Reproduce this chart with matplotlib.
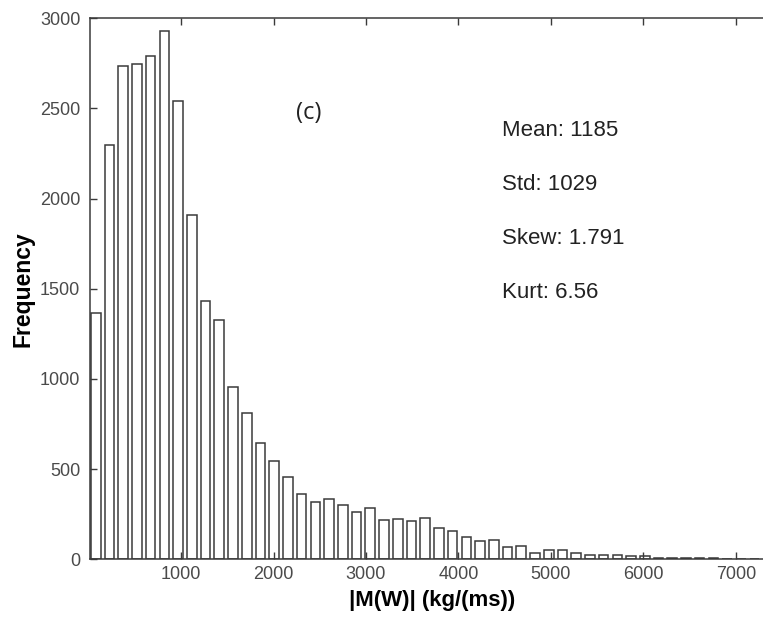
import numpy as np
import matplotlib
matplotlib.use('Agg')
import matplotlib.pyplot as plt

# histogram of |M(W)|, 50 bins
bin_start = 4.0
bin_width = 148.4
counts = [1367, 2298, 2735, 2748, 2789, 2928, 2542, 1911, 1435, 1326,
          955, 811, 646, 546, 457, 363, 318, 335, 300, 261,
          283, 217, 224, 211, 228, 176, 157, 124, 102, 108,
          67, 74, 37, 53, 53, 33, 25, 24, 24, 18,
          18, 8, 7, 9, 6, 5, 3, 3, 4, 3]
x_ticks = [1000, 2000, 3000, 4000, 5000, 6000, 7000]
y_ticks = [0, 500, 1000, 1500, 2000, 2500, 3000]
stats = ['Mean: 1185', 'Std: 1029', 'Skew: 1.791', 'Kurt: 6.56']

plt.rcParams['font.family'] = ['Liberation Sans', 'DejaVu Sans']

W, H = 763, 623
fig = plt.figure(figsize=(W / 100, H / 100), dpi=100)
ax = fig.add_axes([90 / W, 63.7 / H, 685 / W, 541 / H])

edges = bin_start + bin_width * np.arange(len(counts) + 1)
centers = (edges[:-1] + edges[1:]) / 2
ax.bar(centers, counts, width=bin_width * 0.7, color='white',
       edgecolor='#3a3a3a', linewidth=1.1)

ax.set_xlim(16, 7422)
ax.set_ylim(0, 3000)
ax.set_xticks(x_ticks)
ax.set_yticks(y_ticks)
ax.tick_params(direction='in', length=5, width=1, colors='#3a3a3a',
               labelcolor='#4a4a4a', labelsize=13, top=True, right=True)
ax.tick_params(axis='x', pad=5)
ax.tick_params(axis='y', pad=7)
for s in ax.spines.values():
    s.set_color('#3a3a3a')
    s.set_linewidth(1.1)

ax.set_xlabel('|M(W)| (kg/(ms))', fontsize=16, fontweight='bold', labelpad=5)
ax.set_ylabel('Frequency', fontsize=16.5, fontweight='bold', labelpad=4)

fig.text(309 / W, 1 - 113 / H, '(c)', fontsize=17, family=['Open Sans', 'DejaVu Sans'],
         ha='center', va='center', color='#222222')
for i, s in enumerate(stats):
    fig.text(501.7 / W, 1 - (136 + 54 * i) / H, s, fontsize=16,
             ha='left', va='baseline', color='#222222')

fig.savefig('out.png', dpi=100)
